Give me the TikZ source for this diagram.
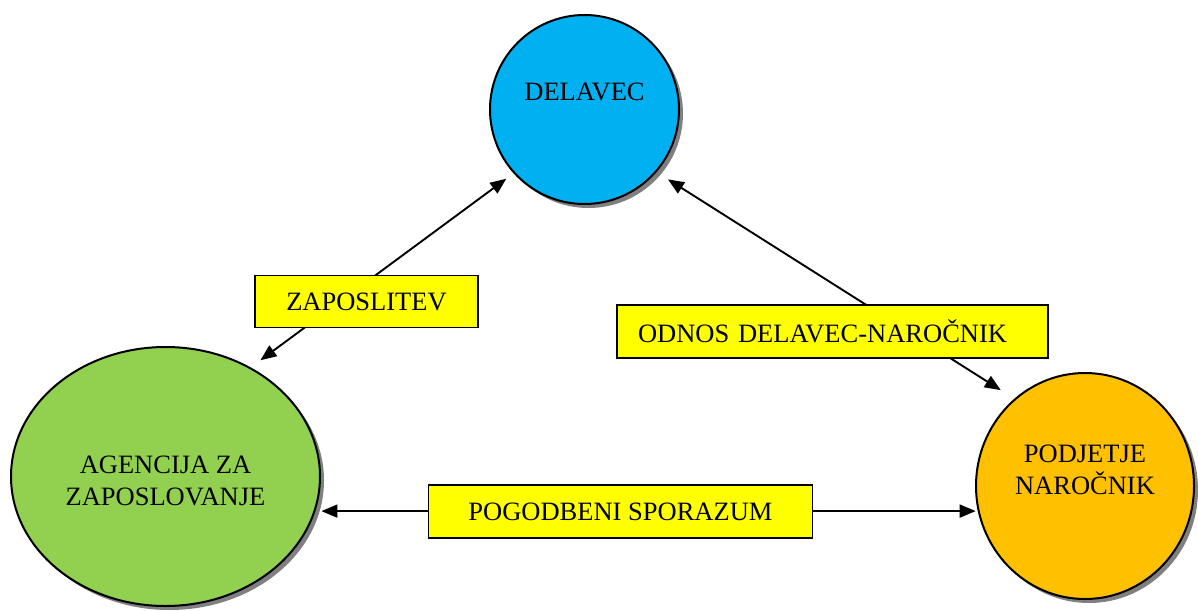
\documentclass[tikz,border=0pt]{standalone}
\usepackage{fontspec}
\setmainfont{Liberation Serif}
\usetikzlibrary{arrows.meta,shapes.geometric,shadows}
\definecolor{cblue}{RGB}{0,176,240}
\definecolor{cgreen}{RGB}{146,208,80}
\definecolor{corange}{RGB}{255,192,0}
\definecolor{cyell}{RGB}{255,255,0}
\begin{document}
\begin{tikzpicture}[x=1pt,y=-1pt,
  party/.style={ellipse, draw=black, line width=2pt, inner sep=0pt,
    drop shadow={shadow xshift=4pt,shadow yshift=-4pt,fill=black!50,opacity=1}},
  lbl/.style={font=\fontsize{26.5}{32}\selectfont, align=center, text depth=0pt, inner sep=0pt},
  tag/.style={draw=black, fill=cyell, line width=1.8pt, font=\fontsize{26.5}{32}\selectfont,
    text depth=0pt, inner sep=0pt},
  link/.style={line width=1.9pt, {Triangle[length=16pt,width=13pt]}-{Triangle[length=16pt,width=13pt]}}]
\fill[white] (0,0) rectangle (1198,610);
\useasboundingbox (0,0) rectangle (1198,610);

\node[party, fill=cblue, minimum width=189pt, minimum height=189pt,
  label={[lbl,yshift=17.5pt]center:DELAVEC}] (delavec) at (584.5,109.5) {};
\node[party, fill=cgreen, minimum width=309pt, minimum height=259pt,
  label={[lbl,yshift=-4.5pt]center:AGENCIJA ZA\\ZAPOSLOVANJE}] (agency) at (165.5,476.5) {};
\node[party, fill=corange, minimum width=218pt, minimum height=226pt,
  label={[lbl,yshift=16.5pt]center:PODJETJE\\NAROČNIK}] (podjetje) at (1085,486) {};

\draw[link, shorten <=12pt, shorten >=9pt] (agency.52.6) -- (delavec.222.7);
\draw[link, shorten <=13.5pt, shorten >=16pt] (delavec.319.5) -- (podjetje.129.6);
\draw[link, shorten <=6pt, shorten >=2pt] (agency.-13.6) -- (podjetje.193.7 |- agency.-13.6);

\node[tag, minimum width=223pt, minimum height=52pt] (zap) at (366.5,301.5) {ZAPOSLITEV};
\node[tag, text width=389pt, align=left, inner xsep=21pt, minimum height=53pt] (odnos) at (832.5,331.5) {ODNOS DELAVEC-NAROČNIK};
\node[tag, minimum width=384pt, minimum height=53pt] (pog) at (620.5,511.5) {POGODBENI SPORAZUM};
\end{tikzpicture}
\end{document}
